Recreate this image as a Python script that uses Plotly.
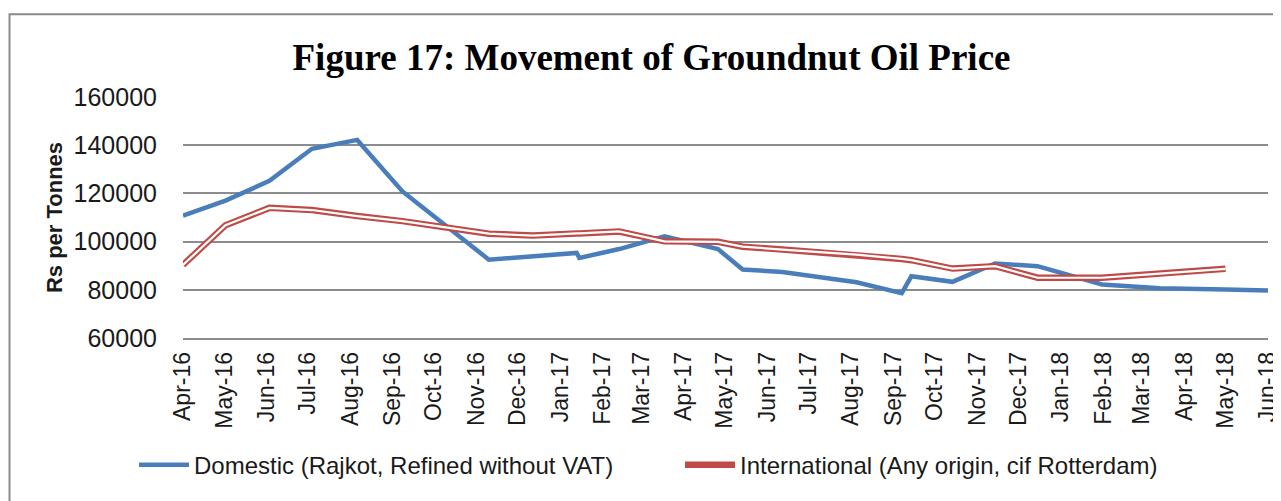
import plotly.graph_objects as go

# ---- data ----
dates = [
    "2016-04-01", "2016-05-02", "2016-06-03", "2016-07-04", "2016-08-06",
    "2016-09-08", "2016-11-10", "2016-12-12", "2017-01-13", "2017-01-15",
    "2017-02-13", "2017-03-18", "2017-04-26", "2017-05-14", "2017-06-12",
    "2017-08-05", "2017-09-07", "2017-09-14", "2017-10-14", "2017-11-14",
    "2017-12-15", "2018-01-31", "2018-03-14", "2018-05-01", "2018-06-01",
]
domestic = [
    110800, 117000, 125200, 138500, 142200,
    120800, 92500, 93900, 95300, 93200,
    96900, 102200, 96900, 88400, 87400,
    83100, 78600, 85600, 83300, 90900,
    89800, 82200, 80600, 80100, 79700,
]
international = [
    90300, 106800, 114000, 113100, 110600,
    108500, 103300, 102500, 103400, 103400,
    104200, 100100, 99900, 97900, 96700,
    94600, 92800, 92300, 88800, 89800,
    85000, 85000, 86700, 88700, None,
]
series_names = ["Domestic (Rajkot, Refined without VAT)",
                "International (Any origin, cif Rotterdam)"]
title_text = "Figure 17: Movement of Groundnut Oil Price"
y_title = "Rs per Tonnes"
x_range = ["2016-04-01", "2018-06-01"]
y_range = [60000, 160000]

BLUE = "#4A7EBB"
RED = "#BE4B48"
GRID = "#8C8C8C"
TXT = "#1A1A1A"

fig = go.Figure()
fig.add_trace(go.Scatter(
    x=dates, y=domestic, mode="lines", name=series_names[0],
    line=dict(color=BLUE, width=4.5), hoverinfo="skip"))
fig.add_trace(go.Scatter(
    x=dates, y=international, mode="lines", name=series_names[1],
    line=dict(color=RED, width=6.5), hoverinfo="skip"))
# white core -> Excel-style double line
fig.add_trace(go.Scatter(
    x=dates, y=international, mode="lines", showlegend=False,
    line=dict(color="white", width=2.2), hoverinfo="skip"))

# chart-area border (as in the Excel export)
fig.add_shape(type="rect", xref="paper", yref="paper",
              x0=-0.1599, x1=1.03, y0=-0.75, y1=1.3437,
              line=dict(color="#8A8A8A", width=2), fillcolor="rgba(0,0,0,0)",
              layer="below")

# The page body has an 8px margin, so the figure is 8px smaller than the window
fig.update_layout(
    width=1273, height=493,
    margin=dict(l=175, r=13, t=89, b=162.5, autoexpand=False),
    paper_bgcolor="white", plot_bgcolor="white",
    font=dict(family="Liberation Sans, Arial, sans-serif", color=TXT),
    title=dict(text=title_text, xref="container", x=0.5055, xanchor="center",
               yref="container", y=0.9006, yanchor="middle",
               font=dict(family="Liberation Serif, Times New Roman, serif",
                         size=37, color="#000000", weight="bold")),
    showlegend=True,
    legend=dict(orientation="h", xref="paper", x=-0.04516, xanchor="left",
                yref="paper", y=-0.528, yanchor="middle",
                font=dict(size=24, color=TXT), itemwidth=50, entrywidth=481,
                entrywidthmode="pixels", bgcolor="rgba(0,0,0,0)"),
    xaxis=dict(type="date", range=x_range, dtick="M1", tick0="2016-04-01",
               tickformat="%b-%y", tickangle=-90, showgrid=False,
               showline=True, linecolor=GRID, linewidth=1.5,
               ticks="", ticklabelstandoff=3, automargin=False,
               tickfont=dict(size=23, color=TXT), fixedrange=True),
    yaxis=dict(range=y_range, dtick=20000, tickformat="d", showgrid=True,
               gridcolor=GRID, gridwidth=1.5, showline=False, zeroline=False,
               ticks="", ticklabelstandoff=25, automargin=False,
               tickfont=dict(size=25, color=TXT),
               title=dict(text=y_title, standoff=4,
                          font=dict(size=22, color=TXT, weight="bold")),
               fixedrange=True),
)

fig.write_html("out.html", config={"displayModeBar": False})
